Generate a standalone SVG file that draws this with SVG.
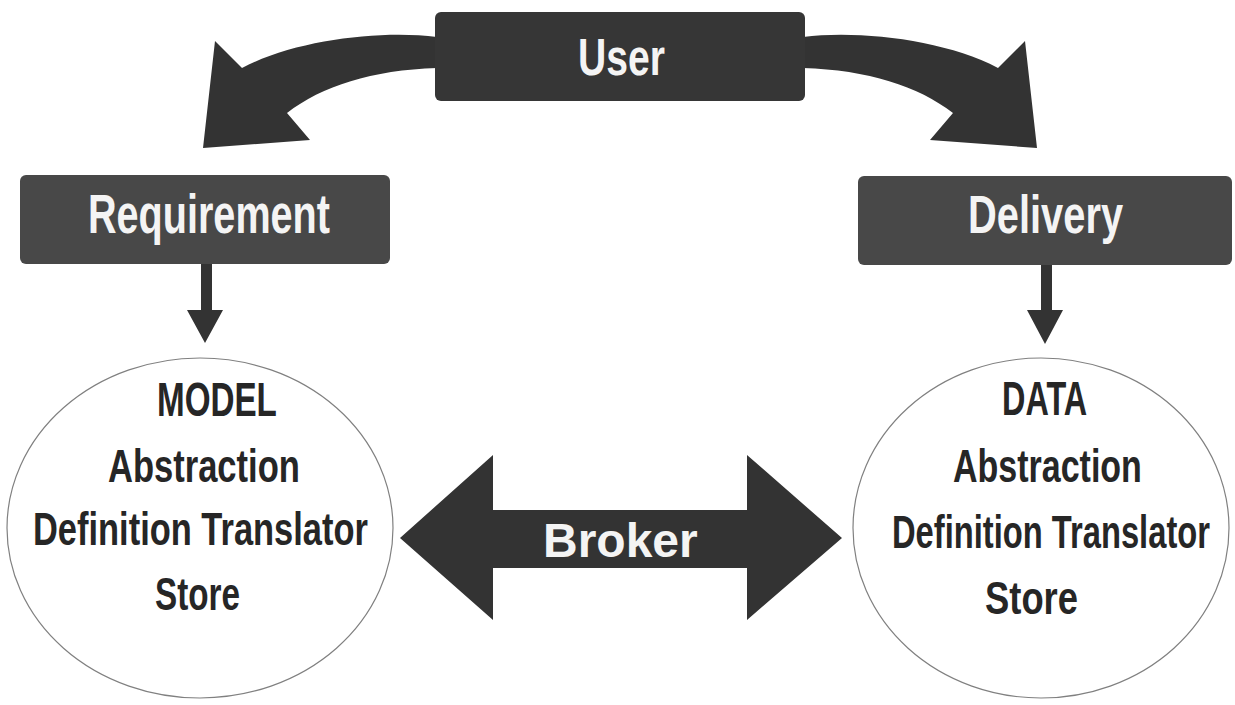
<svg xmlns="http://www.w3.org/2000/svg" width="1235" height="705" viewBox="0 0 1235 705">
<style>
.box{fill:#484848;}
.boxd{fill:#363636;}
.lbl{font-family:"Liberation Sans",Arial,sans-serif;font-weight:bold;fill:#f4f4f4;}
.txt{font-family:"Liberation Sans",Arial,sans-serif;font-weight:bold;fill:#262626;}
.ell{fill:#ffffff;stroke:#808080;stroke-width:1.2;}
.arr{fill:#333333;}
</style>
<rect width="1235" height="705" fill="#ffffff"/>
<g id="connectors">
<path class="arr" d="M 437 37 C 380 30 295 40 242 68 L 215 41 L 203 148 L 310 140 L 287 113 C 322 86 372 70 437 68 Z"/>
<path class="arr" d="M 803 37 C 860 30 945 40 998 68 L 1025 41 L 1037 148 L 930 140 L 953 113 C 918 86 868 70 803 68 Z"/>
<path class="arr" d="M 201 262 L 212 262 L 212 310 L 223 310 L 205 343 L 187 310 L 201 310 Z"/>
<path class="arr" d="M 1041 262 L 1052 262 L 1052 310 L 1063 310 L 1045 344 L 1027 310 L 1041 310 Z"/>
<g id="broker">
<path class="arr" d="M 400 538 L 493 455 L 493 510 L 747 510 L 747 455 L 842 538 L 747 620 L 747 568 L 493 568 L 493 620 Z"/>
<text class="lbl" x="543" y="557" font-size="48">Broker</text>
</g>
</g>
<g id="user">
<rect class="boxd" x="435" y="12" width="370" height="89" rx="6"/>
<text class="lbl" font-size="51" transform="translate(578,75) scale(0.767,1)">User</text>
</g>
<g id="requirement">
<rect class="box" x="20" y="175" width="370" height="89" rx="6"/>
<text class="lbl" font-size="55" transform="translate(88,233) scale(0.72,1)">Requirement</text>
</g>
<g id="delivery">
<rect class="box" x="858" y="176" width="374" height="89" rx="6"/>
<text class="lbl" font-size="53" transform="translate(968,233) scale(0.752,1)">Delivery</text>
</g>
<g id="model">
<ellipse class="ell" cx="200" cy="528" rx="193" ry="170"/>
<text class="txt" font-size="48" transform="translate(157,416) scale(0.692,1)">MODEL</text>
<text class="txt" font-size="46" transform="translate(108,482) scale(0.751,1)">Abstraction</text>
<text class="txt" font-size="46" transform="translate(33,545) scale(0.749,1)">Definition Translator</text>
<text class="txt" font-size="46" transform="translate(155,610) scale(0.723,1)">Store</text>
</g>
<g id="data">
<ellipse class="ell" cx="1041" cy="528" rx="188" ry="170"/>
<text class="txt" font-size="48" transform="translate(1002,415) scale(0.675,1)">DATA</text>
<text class="txt" font-size="46" transform="translate(953,482) scale(0.739,1)">Abstraction</text>
<text class="txt" font-size="46" transform="translate(892,548) scale(0.711,1)">Definition Translator</text>
<text class="txt" font-size="46" transform="translate(985,614) scale(0.791,1)">Store</text>
</g>
</svg>
